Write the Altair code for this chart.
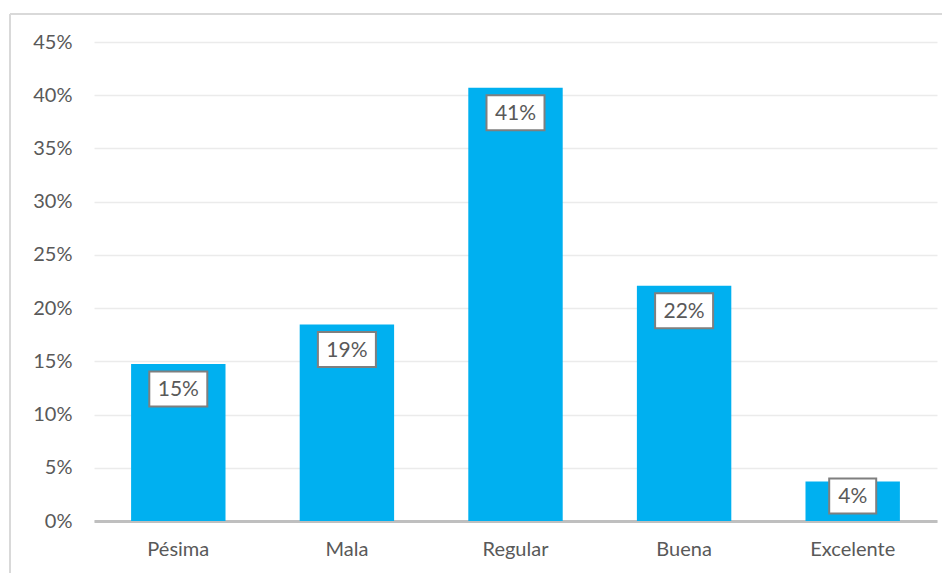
import altair as alt
import pandas as pd

categories = ["Pésima", "Mala", "Regular", "Buena", "Excelente"]
values = [14.75, 18.45, 40.7, 22.1, 3.7]
labels = ["15%", "19%", "41%", "22%", "4%"]

df = pd.DataFrame({"cat": categories, "v": values, "label": labels})

W, H = 843, 479
PX = H / 45.0  # pixels per percentage point

font = "Lato"
grey_txt = "#595959"

x = alt.X("cat:N", sort=categories, title=None,
          scale=alt.Scale(paddingInner=0.44, paddingOuter=0.22),
          axis=alt.Axis(labelAngle=0, labelFont=font, labelFontSize=20,
                        labelColor=grey_txt, labelPadding=18, ticks=False,
                        domainColor="#bfbfbf", domainWidth=3, grid=False))
y = alt.Y("v:Q", title=None,
          scale=alt.Scale(domain=[0, 45], nice=False),
          axis=alt.Axis(values=list(range(0, 50, 5)), labelExpr="datum.value + '%'",
                        labelFont=font, labelFontSize=20, labelColor=grey_txt,
                        labelPadding=22, ticks=False, domain=False,
                        gridColor="#ebebeb", gridWidth=1.5))

base = alt.Chart(df).encode(x=x)

bars = base.mark_bar(color="#00B0F0").encode(y=y)

lab = base.transform_calculate(
    yc=f"datum.v - min(25, datum.v * {PX} - 25) / {PX}",
    n="length(datum.label)"
)

box3 = lab.transform_filter("datum.n == 3").mark_rect(
    width=58, height=35, fill="white", stroke="#7f7f7f", strokeWidth=2
).encode(y=alt.Y("yc:Q"))
box2 = lab.transform_filter("datum.n == 2").mark_rect(
    width=47, height=35, fill="white", stroke="#7f7f7f", strokeWidth=2
).encode(y=alt.Y("yc:Q"))

text = lab.mark_text(font=font, fontSize=21, color=grey_txt, baseline="middle", dy=1).encode(
    y=alt.Y("yc:Q"), text="label:N")

border_left = alt.Chart(df).mark_rule(color="#d9d9d9", strokeWidth=2, clip=False).encode(
    x=alt.value(-84), y=alt.value(-28), y2=alt.value(H + 80))
border_top = alt.Chart(df).mark_rule(color="#d9d9d9", strokeWidth=2, clip=False).encode(
    x=alt.value(-84), x2=alt.value(W + 20), y=alt.value(-28))

chart = alt.layer(border_left, border_top, bars, box3, box2, text).properties(
    width=W, height=H,
    autosize=alt.AutoSizeParams(type="none"),
    padding={"left": 86, "top": 34, "right": 5, "bottom": 70},
).configure_view(stroke=None)

chart.save("out.html", embed_options={"renderer": "svg", "actions": False})
